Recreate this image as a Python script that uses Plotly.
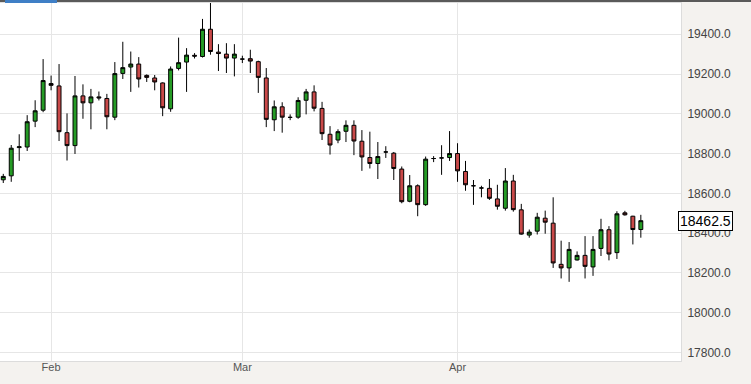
import plotly.graph_objects as go

# trading-session index (one entry per candle)
session = list(range(81))

open_ = [18668, 18688, 18830, 18833, 18963, 19018, 19152, 19140, 18905, 18840,
         19090, 19055, 19085, 19077, 18983, 19203, 19235, 19250, 19193, 19180,
         19155, 19025, 19228, 19260, 19294, 19288, 19425, 19310, 19300, 19280,
         19275, 19277, 19262, 19180, 18970, 19035, 18982, 18983, 19068, 19110,
         19027, 18897, 18868, 18912, 18942, 18862, 18780, 18750, 18808, 18802,
         18722, 18560, 18638, 18543, 18775, 18778, 18780, 18800, 18710, 18638,
         18627, 18625, 18572, 18525, 18662, 18517, 18390, 18410, 18475, 18450,
         18243, 18225, 18265, 18288, 18230, 18323, 18417, 18302, 18502, 18485,
         18418]
high = [18698, 18843, 18897, 18993, 19068, 19275, 19192, 19250, 19002, 19190,
        19148, 19125, 19112, 19100, 19260, 19362, 19313, 19285, 19198, 19195,
        19158, 19238, 19383, 19330, 19305, 19477, 19558, 19350, 19355, 19350,
        19292, 19322, 19267, 19230, 19067, 19058, 18997, 19083, 19125, 19143,
        19060, 18938, 18922, 18967, 18967, 18918, 18910, 18858, 18837, 18808,
        18735, 18692, 18645, 18785, 18787, 18842, 18913, 18852, 18763, 18667,
        18638, 18672, 18643, 18727, 18693, 18547, 18418, 18502, 18513, 18580,
        18362, 18355, 18308, 18385, 18385, 18472, 18435, 18510, 18512, 18487,
        18492]
low = [18652, 18658, 18763, 18813, 18933, 19008, 19118, 18863, 18765, 18798,
       18975, 18922, 19067, 18922, 18968, 19175, 19110, 19132, 19160, 19118,
       18988, 19010, 19218, 19110, 19278, 19283, 19297, 19215, 19205, 19188,
       19255, 19205, 19105, 18933, 18913, 18905, 18968, 18975, 18997, 19012,
       18868, 18795, 18852, 18858, 18792, 18713, 18725, 18672, 18778, 18667,
       18550, 18555, 18485, 18537, 18757, 18693, 18763, 18658, 18613, 18542,
       18580, 18567, 18518, 18513, 18508, 18392, 18377, 18393, 18397, 18225,
       18172, 18155, 18262, 18172, 18185, 18285, 18263, 18270, 18488, 18343,
       18377]
close = [18685, 18827, 18834, 18960, 19015, 19167, 19143, 18910, 18840, 19090,
         19055, 19085, 19080, 18985, 19202, 19232, 19250, 19175, 19183, 19160,
         19030, 19225, 19257, 19295, 19290, 19425, 19313, 19303, 19280, 19300,
         19275, 19265, 19183, 18972, 19035, 18983, 18982, 19067, 19110, 19028,
         18900, 18843, 18910, 18942, 18863, 18783, 18750, 18785, 18808, 18725,
         18558, 18638, 18543, 18772, 18775, 18778, 18800, 18713, 18643, 18638,
         18627, 18575, 18535, 18662, 18518, 18395, 18405, 18480, 18455, 18250,
         18225, 18318, 18288, 18233, 18318, 18417, 18295, 18497, 18492, 18418,
         18462.5]

month_ticks = [6, 30, 57]
month_labels = ["Feb", "Mar", "Apr"]
last_price = close[-1]

FONT = "Liberation Sans, Arial, sans-serif"
W, H = 751, 384
ML, MR, MT, MB = 0, 70, 3, 23
PW, PH = W - ML - MR, H - MT - MB

fig = go.Figure(go.Candlestick(
    x=session, open=open_, high=high, low=low, close=close,
    increasing=dict(line=dict(color="black", width=1), fillcolor="#259b25"),
    decreasing=dict(line=dict(color="black", width=1), fillcolor="#c94949"),
    whiskerwidth=0, hoverinfo="skip",
))

def py(px):
    return (H - MB - px) / PH

fig.update_layout(
    width=W, height=H,
    margin=dict(l=ML, r=MR, t=MT, b=MB, pad=0),
    paper_bgcolor="#f4f2ef", plot_bgcolor="white",
    showlegend=False,
    font=dict(family=FONT, color="#444"),
    xaxis=dict(
        range=[-0.41, 85.04], tickmode="array", tickvals=month_ticks,
        ticktext=month_labels, showgrid=True, gridcolor="#e6e6e6",
        ticks="", tickfont=dict(size=11, color="#555"),
        rangeslider=dict(visible=False), zeroline=False,
        showline=True, linecolor="#dcdcdc", mirror=True, ticklabelstandoff=-4,
    ),
    yaxis=dict(
        side="right", range=[17757, 19557], tick0=17800, dtick=200,
        tickformat=".1f", showgrid=True, gridcolor="#e6e6e6", ticks="",
        tickfont=dict(size=12, color="#444"), zeroline=False,
        showline=True, linecolor="#dcdcdc", mirror=True, ticklabelstandoff=3,
    ),
    shapes=[
        dict(type="rect", xref="paper", yref="paper", x0=0, x1=W / PW,
             y0=py(2), y1=py(0), fillcolor="#5a5a5a", line=dict(width=0)),
        dict(type="rect", xref="paper", yref="paper", x0=5 / PW, x1=57 / PW,
             y0=py(3), y1=py(0), fillcolor="#3f7fc6", line=dict(width=0)),
    ],
    annotations=[dict(
        x=1, xref="paper", xanchor="left", xshift=-3,
        y=last_price, yref="y", yanchor="middle",
        text=f"{last_price:.1f}", showarrow=False,
        font=dict(size=14, color="black", family=FONT),
        bgcolor="white", bordercolor="black", borderwidth=1, borderpad=1,
    )],
)

fig.write_html(
    "out.html",
    config={"displayModeBar": False},
    post_script="document.body.style.margin='0';document.body.style.overflow='hidden';",
)
